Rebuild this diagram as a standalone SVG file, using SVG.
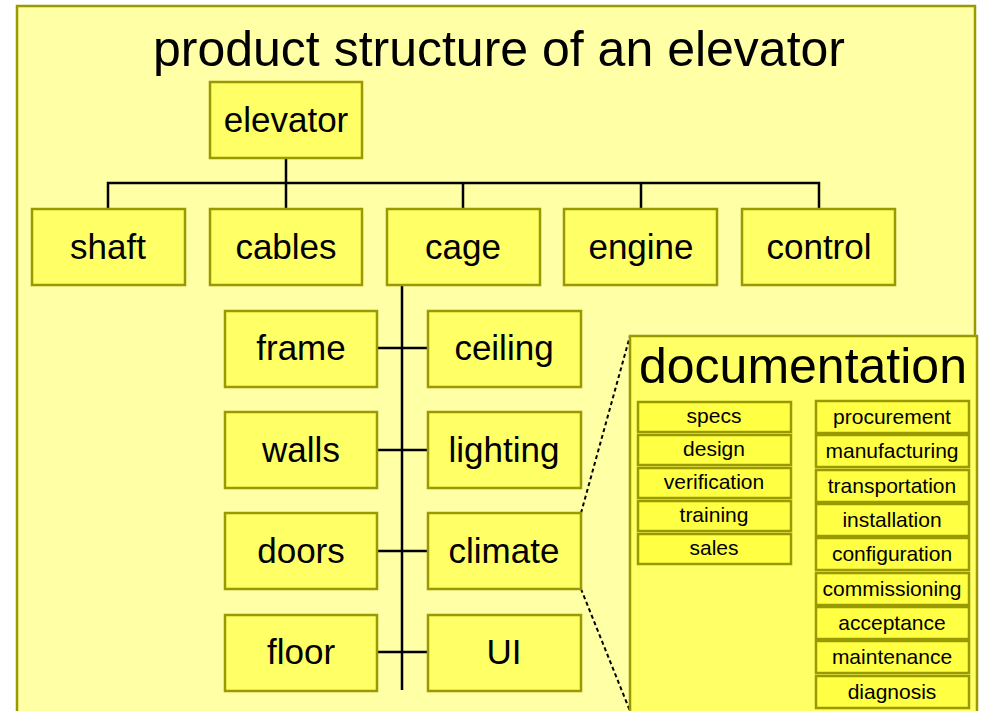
<svg xmlns="http://www.w3.org/2000/svg" width="982" height="711" viewBox="0 0 982 711">
<style>
text{font-family:"Liberation Sans",Arial,sans-serif;fill:#000;text-anchor:middle}
.box{fill:#FFFF66;stroke:#999900;stroke-width:2.5}
.sbox{fill:#FFFF44;stroke:#999900;stroke-width:2.5}
.n{font-size:35px}
.s{font-size:21px}
.ln{stroke:#000;stroke-width:2.5;fill:none}
.dot{stroke:#000;stroke-width:2;fill:none;stroke-dasharray:4,3}
</style>
<rect x="0" y="0" width="982" height="711" fill="#ffffff"/>
<rect x="17" y="6" width="958" height="720" fill="#FFFFA6" stroke="#999900" stroke-width="2.5"/>
<text x="499" y="66" style="font-size:50px">product structure of an elevator</text>
<g id="connectors">
<path class="ln" d="M286 158V183M108 209V183H819V209M286 183V209M463 183V209M641 183V209"/>
<path class="ln" d="M402 285V690M377 348H428M377 450H428M377 551H428M377 652H428"/>
<path class="dot" d="M581 513L630 336M581 589L630 711"/>
</g>
<g id="elevator"><rect class="box" x="210" y="82" width="152" height="76"/><text class="n" x="286" y="132">elevator</text></g>
<g id="shaft"><rect class="box" x="32" y="209" width="153" height="76"/><text class="n" x="108" y="259">shaft</text></g>
<g id="cables"><rect class="box" x="210" y="209" width="152" height="76"/><text class="n" x="286" y="259">cables</text></g>
<g id="cage"><rect class="box" x="387" y="209" width="153" height="76"/><text class="n" x="463" y="259">cage</text></g>
<g id="engine"><rect class="box" x="564" y="209" width="153" height="76"/><text class="n" x="641" y="259">engine</text></g>
<g id="control"><rect class="box" x="742" y="209" width="153" height="76"/><text class="n" x="819" y="259">control</text></g>
<g id="frame"><rect class="box" x="225" y="311" width="152" height="76"/><text class="n" x="301" y="360">frame</text></g>
<g id="walls"><rect class="box" x="225" y="412" width="152" height="76"/><text class="n" x="301" y="462">walls</text></g>
<g id="doors"><rect class="box" x="225" y="513" width="152" height="76"/><text class="n" x="301" y="563">doors</text></g>
<g id="floor"><rect class="box" x="225" y="615" width="152" height="76"/><text class="n" x="301" y="664">floor</text></g>
<g id="ceiling"><rect class="box" x="428" y="311" width="153" height="76"/><text class="n" x="504" y="360">ceiling</text></g>
<g id="lighting"><rect class="box" x="428" y="412" width="153" height="76"/><text class="n" x="504" y="462">lighting</text></g>
<g id="climate"><rect class="box" x="428" y="513" width="153" height="76"/><text class="n" x="504" y="563">climate</text></g>
<g id="UI"><rect class="box" x="428" y="615" width="153" height="76"/><text class="n" x="504" y="664">UI</text></g>
<g id="documentation">
<rect class="box" x="630" y="336" width="347" height="390"/>
<text x="803" y="383" style="font-size:50px">documentation</text>
</g>
<g id="specs"><rect class="sbox" x="638" y="402" width="153" height="30"/><text class="s" x="714" y="423">specs</text></g>
<g id="design"><rect class="sbox" x="638" y="435" width="153" height="30"/><text class="s" x="714" y="456">design</text></g>
<g id="verification"><rect class="sbox" x="638" y="468" width="153" height="30"/><text class="s" x="714" y="489">verification</text></g>
<g id="training"><rect class="sbox" x="638" y="501" width="153" height="30"/><text class="s" x="714" y="522">training</text></g>
<g id="sales"><rect class="sbox" x="638" y="534" width="153" height="30"/><text class="s" x="714" y="555">sales</text></g>
<g id="procurement"><rect class="sbox" x="816" y="401" width="153" height="32"/><text class="s" x="892" y="424">procurement</text></g>
<g id="manufacturing"><rect class="sbox" x="816" y="435" width="153" height="32"/><text class="s" x="892" y="458">manufacturing</text></g>
<g id="transportation"><rect class="sbox" x="816" y="470" width="153" height="32"/><text class="s" x="892" y="493">transportation</text></g>
<g id="installation"><rect class="sbox" x="816" y="504" width="153" height="32"/><text class="s" x="892" y="527">installation</text></g>
<g id="configuration"><rect class="sbox" x="816" y="538" width="153" height="32"/><text class="s" x="892" y="561">configuration</text></g>
<g id="commissioning"><rect class="sbox" x="816" y="573" width="153" height="32"/><text class="s" x="892" y="596">commissioning</text></g>
<g id="acceptance"><rect class="sbox" x="816" y="607" width="153" height="32"/><text class="s" x="892" y="630">acceptance</text></g>
<g id="maintenance"><rect class="sbox" x="816" y="641" width="153" height="32"/><text class="s" x="892" y="664">maintenance</text></g>
<g id="diagnosis"><rect class="sbox" x="816" y="676" width="153" height="32"/><text class="s" x="892" y="699">diagnosis</text></g>
</svg>
